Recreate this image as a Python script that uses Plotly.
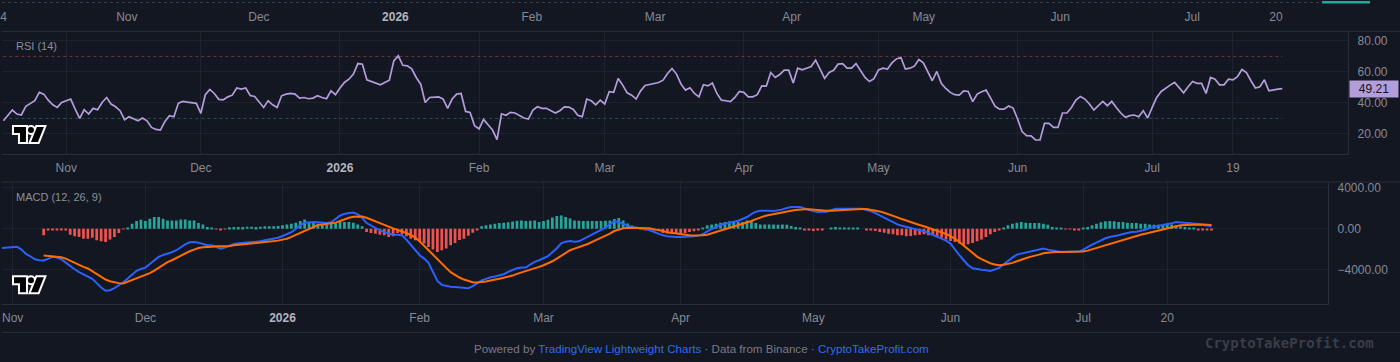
import pandas as pd
import plotly.graph_objects as go

# ---------------- data ----------------
RSI_START = "2025-10-18"
RSI_VALUES = [
    28.5, 32.0, 35.4, 32.8, 32.2, 37.8, 39.7, 41.4, 46.8, 45.7,
    41.8, 38.8, 37.1, 40.3, 41.4, 42.5, 36.0, 30.0, 35.6, 32.8,
    36.5, 35.6, 40.3, 43.5, 39.3, 37.5, 35.0, 29.2, 31.1, 30.0,
    28.5, 30.3, 28.5, 24.2, 22.9, 22.5, 28.1, 31.8, 31.1, 39.9,
    41.0, 40.5, 40.3, 39.7, 33.3, 45.3, 48.7, 46.1, 42.3, 42.0,
    43.9, 45.0, 49.6, 48.9, 49.6, 44.8, 44.2, 40.3, 37.1, 41.4,
    38.8, 37.1, 44.6, 45.7, 46.1, 45.7, 43.1, 43.5, 42.7, 43.1,
    44.6, 43.5, 42.7, 47.8, 45.3, 49.6, 53.2, 55.3, 58.6, 65.4,
    65.0, 54.9, 53.8, 52.3, 51.7, 53.2, 54.7, 67.1, 70.4, 64.3,
    63.9, 62.0, 56.4, 52.1, 40.3, 43.5, 43.9, 43.9, 42.5, 36.5,
    42.5, 45.7, 46.1, 34.5, 33.9, 25.3, 23.2, 29.4, 25.9, 22.5,
    16.3, 33.0, 32.0, 33.9, 33.5, 31.8, 30.3, 29.6, 35.4, 37.5,
    36.5, 36.5, 34.8, 33.5, 35.0, 37.5, 37.3, 35.8, 32.0, 31.1,
    42.5, 41.4, 38.8, 41.8, 39.3, 47.2, 46.8, 55.8, 51.5, 46.5,
    45.0, 42.5, 47.8, 51.3, 51.9, 52.6, 53.2, 54.7, 59.0, 62.2,
    58.6, 52.1, 48.3, 49.8, 46.1, 43.9, 51.7, 51.0, 52.8, 46.1,
    41.8, 41.4, 40.8, 43.5, 47.4, 46.8, 43.9, 43.9, 45.3, 51.0,
    50.8, 59.6, 56.4, 58.3, 61.1, 61.1, 52.8, 62.4, 61.3, 62.4,
    63.5, 67.6, 61.8, 55.8, 59.6, 61.1, 65.0, 65.4, 62.4, 62.4,
    65.4, 61.1, 56.4, 53.8, 55.6, 61.3, 62.4, 61.8, 65.8, 68.4,
    69.3, 61.8, 62.4, 63.7, 68.0, 65.8, 59.6, 54.3, 60.3, 52.6,
    49.3, 46.8, 45.3, 45.0, 47.8, 47.4, 40.8, 45.7, 47.2, 48.3,
    43.1, 37.8, 36.0, 36.0, 38.0, 36.7, 29.6, 21.5, 18.9, 18.7,
    16.1, 16.1, 26.8, 26.8, 24.2, 24.2, 33.5, 33.5, 37.1, 41.8,
    44.2, 42.5, 39.3, 35.4, 38.2, 41.0, 38.2, 41.0, 37.1, 33.5,
    30.7, 31.8, 32.2, 31.1, 35.0, 30.3, 37.1, 43.5, 47.4, 49.6,
    51.5, 53.2, 50.0, 46.5, 50.4, 53.8, 52.6, 52.6, 46.1, 56.4,
    55.3, 51.7, 51.7, 55.3, 54.9, 57.0, 61.6, 59.6, 54.3, 49.6,
    50.4, 54.9, 47.8, 48.5, 48.9, 49.21,
]
RSI_UPPER = 70
RSI_LOWER = 30

MACD_START = "2025-10-29"
MACD_VALUES = [
    -1920, -1890, -1820, -1760, -1760, -2050, -2470, -2700, -2990, -3090,
    -3120, -2960, -2760, -2830, -2990, -3320, -3670, -3970, -4260, -4460,
    -4650, -4910, -5330, -5760, -6080, -6020, -5820, -5560, -5240, -4880,
    -4460, -4130, -3940, -3800, -3450, -3060, -2760, -2570, -2470, -2310,
    -2110, -1790, -1530, -1330, -1300, -1370, -1500, -1630, -1630, -1820,
    -1950, -1850, -1690, -1500, -1430, -1400, -1370, -1370, -1270, -1240,
    -1140, -1070, -980, -880, -720, -550, -330, -30, 360, 590,
    650, 650, 620, 550, 550, 620, 910, 1270, 1460, 1560,
    1590, 1400, 1070, 550, 290, 70, -160, -330, -460, -590,
    -590, -650, -1070, -1560, -2050, -2600, -2930, -3350, -4230, -5110,
    -5500, -5630, -5690, -5720, -5760, -5790, -5820, -5630, -5370, -5070,
    -4910, -4750, -4680, -4590, -4460, -4230, -4030, -3870, -3800, -3800,
    -3510, -3250, -3090, -2930, -2700, -2310, -1920, -1430, -1270, -1200,
    -1270, -1240, -1010, -810, -550, -330, -130, 100, 420, 720,
    650, 490, 290, 130, 100, 70, -30, -160, -330, -490,
    -650, -750, -810, -810, -810, -810, -780, -750, -680, -550,
    -260, -30, 200, 390, 490, 620, 680, 780, 940, 1140,
    1430, 1660, 1760, 1790, 1760, 1720, 1790, 1890, 2020, 2110,
    2110, 2110, 1980, 1820, 1720, 1630, 1630, 1660, 1820, 1950,
    1950, 1950, 1980, 2020, 1980, 1950, 1820, 1720, 1530, 1300,
    1040, 810, 620, 420, 290, 160, 30, -100, -160, -230,
    -420, -650, -810, -980, -1170, -1460, -2080, -2600, -3090, -3580,
    -3870, -3970, -4030, -4070, -4130, -4000, -3840, -3480, -3120, -2830,
    -2540, -2440, -2370, -2280, -2150, -2050, -1950, -2050, -2150, -2210,
    -2280, -2280, -2280, -2280, -2240, -2050, -1790, -1560, -1370, -1140,
    -940, -810, -750, -650, -520, -390, -330, -290, -200, -100,
    70, 200, 290, 360, 420, 520, 650, 620, 550, 520,
    490, 460, 390, 290, 230,
]

SIGNAL_START = "2025-11-08"
SIGNAL_VALUES = [
    -2630, -2670, -2730, -2760, -2800, -2930, -3150, -3350, -3540, -3740,
    -3900, -4160, -4460, -4720, -4980, -5140, -5270, -5330, -5370, -5200,
    -5040, -4880, -4680, -4490, -4360, -4100, -3800, -3540, -3280, -3090,
    -2860, -2630, -2440, -2210, -2050, -1890, -1820, -1760, -1760, -1720,
    -1720, -1690, -1690, -1630, -1590, -1560, -1500, -1460, -1430, -1400,
    -1330, -1300, -1240, -1170, -1070, -980, -810, -620, -390, -160,
    30, 200, 360, 420, 490, 550, 590, 750, 940, 1070,
    1170, 1200, 1200, 1070, 910, 720, 550, 390, 200, 30,
    -100, -260, -420, -620, -880, -1240, -1690, -2150, -2600, -3020,
    -3450, -3840, -4260, -4550, -4780, -4980, -5140, -5240, -5270, -5240,
    -5170, -5070, -5010, -4910, -4810, -4720, -4590, -4420, -4290, -4200,
    -4070, -3900, -3740, -3580, -3410, -3190, -2930, -2630, -2370, -2110,
    -1950, -1820, -1660, -1500, -1300, -1110, -910, -720, -490, -230,
    -70, 30, 100, 100, 100, 100, 70, 30, -70, -130,
    -230, -360, -420, -520, -590, -620, -650, -680, -680, -650,
    -590, -460, -330, -200, -70, 70, 200, 330, 460, 590,
    750, 940, 1110, 1240, 1330, 1430, 1500, 1560, 1660, 1760,
    1820, 1890, 1890, 1890, 1850, 1820, 1760, 1760, 1760, 1790,
    1820, 1850, 1890, 1920, 1920, 1920, 1920, 1850, 1790, 1690,
    1560, 1430, 1270, 1110, 940, 780, 620, 490, 360, 230,
    100, -30, -200, -360, -520, -720, -980, -1300, -1660, -2050,
    -2410, -2730, -2990, -3190, -3380, -3510, -3580, -3540, -3480, -3350,
    -3190, -3020, -2890, -2760, -2670, -2540, -2410, -2340, -2310, -2280,
    -2280, -2280, -2280, -2280, -2280, -2240, -2150, -2020, -1890, -1760,
    -1590, -1430, -1300, -1170, -1040, -910, -780, -680, -590, -490,
    -390, -260, -160, -70, 30, 130, 230, 330, 360, 390,
    420, 420, 420, 390, 360,
]

HIST_START = "2025-11-08"
HIST_VALUES = [
    -650, -160, -100, -100, -130, -160, -590, -750, -810, -980,
    -980, -880, -1140, -1240, -1300, -1070, -810, -420, -70, 70,
    490, 750, 880, 750, 980, 1140, 1140, 980, 810, 810,
    810, 910, 910, 810, 810, 550, 420, 160, 70, -30,
    -160, -70, 130, 160, 160, 160, 200, 200, 160, 200,
    230, 230, 230, 260, 330, 420, 490, 590, 750, 910,
    650, 550, 490, 490, 420, 490, 550, 650, 650, 650,
    590, 420, 230, -330, -420, -490, -590, -650, -810, -750,
    -420, -550, -750, -980, -1140, -1300, -1460, -1790, -2050, -2280,
    -2110, -1950, -1630, -1400, -1100, -980, -700, -400, -100, 230,
    330, 420, 480, 550, 580, 620, 710, 780, 800, 750,
    780, 800, 650, 750, 880, 1100, 1250, 1300, 1150, 1000,
    810, 780, 750, 750, 750, 750, 750, 780, 810, 950,
    1040, 810, 500, 300, 200, 30, -100, -100, -130, -200,
    -420, -480, -490, -490, -450, -420, -330, -250, -160, 100,
    330, 420, 490, 590, 650, 720, 750, 650, 650, 810,
    720, 550, 420, 420, 420, 420, 390, 420, 390, 260,
    160, 30, -160, -160, -230, -160, -100, 0, 70, 160,
    100, 70, 80, 100, 70, 0, -160, -160, -230, -330,
    -390, -490, -550, -650, -650, -750, -720, -650, -590, -550,
    -650, -650, -750, -880, -1070, -1200, -1300, -1460, -1630, -1530,
    -1400, -1240, -1070, -810, -550, -330, -100, 120, 330, 490,
    590, 650, 590, 550, 550, 550, 490, 390, 160, 100,
    70, -70, -70, -100, -160, 60, 160, 330, 490, 620,
    720, 750, 720, 650, 650, 590, 550, 550, 490, 490,
    420, 390, 390, 420, 490, 420, 330, 230, 160, 100,
    70, -100, -100, -130, -130,
]

MONTH_TICKS = ["2025-11-01", "2025-12-01", "2026-01-01", "2026-02-01", "2026-03-01",
               "2026-04-01", "2026-05-01", "2026-06-01", "2026-07-01"]
MONTH_LABELS = ["Nov", "Dec", "<b>2026</b>", "Feb", "Mar", "Apr", "May", "Jun", "Jul"]
TOP_EXTRA_TICKS = [("2025-10-04", "4"), ("2026-07-20", "20")]
RSI_EXTRA_TICKS = [("2026-07-19", "19")]
MACD_EXTRA_TICKS = [("2026-07-20", "20")]
RSI_TICKS = [20, 40, 60, 80]
MACD_TICKS = [-4000, 0, 4000]

# ---------------- styling ----------------
W, H = 1400, 362
BG = "#131722"
GRID = "#1f2330"
SEP = "#2a2e39"
TXT = "#868993"
FONT = "Liberation Sans"
RSI_COLOR = "#b39ddb"
MACD_COLOR = "#2962ff"
SIGNAL_COLOR = "#ff6d00"
UP = "#26a69a"
DOWN = "#ef5350"


def px(x):
    return x / W


def py(y):
    return 1 - y / H


rsi_dates = pd.date_range(RSI_START, periods=len(RSI_VALUES), freq="D")
macd_dates = pd.date_range(MACD_START, periods=len(MACD_VALUES), freq="D")
sig_dates = pd.date_range(SIGNAL_START, periods=len(SIGNAL_VALUES), freq="D")
hist_dates = pd.date_range(HIST_START, periods=len(HIST_VALUES), freq="D")

NOV1 = pd.Timestamp("2025-11-01")


def xrange(nov_px, px_per_day, width):
    a = NOV1 + pd.Timedelta(days=-nov_px / px_per_day)
    b = NOV1 + pd.Timedelta(days=(width - nov_px) / px_per_day)
    return [a, b]


def ticks(extra):
    pairs = list(zip(MONTH_TICKS, MONTH_LABELS)) + extra
    pairs.sort(key=lambda p: p[0])
    vals = [p[0] for p in pairs]
    txt = [p[1].replace("<b>2026</b>", "<span style='color:#b2b5be'><b>2026</b></span>") for p in pairs]
    return vals, txt


fig = go.Figure()

# top strip: carries only the time scale of the (cropped) main chart
fig.add_trace(go.Scatter(x=rsi_dates, y=[None] * len(rsi_dates), mode="lines",
                         xaxis="x", yaxis="y", hoverinfo="skip", showlegend=False))

# RSI pane
fig.add_trace(go.Scatter(x=rsi_dates, y=[RSI_UPPER] * len(rsi_dates), mode="lines",
                         line=dict(color="rgba(239,83,80,0.45)", width=1, dash="dot"),
                         xaxis="x2", yaxis="y2", hoverinfo="skip"))
fig.add_trace(go.Scatter(x=rsi_dates, y=[RSI_LOWER] * len(rsi_dates), mode="lines",
                         line=dict(color="rgba(38,166,154,0.45)", width=1, dash="dot"),
                         xaxis="x2", yaxis="y2", hoverinfo="skip"))
fig.add_trace(go.Scatter(x=rsi_dates, y=RSI_VALUES, mode="lines",
                         line=dict(color=RSI_COLOR, width=1.7),
                         xaxis="x2", yaxis="y2", hoverinfo="skip"))

# MACD pane
fig.add_trace(go.Bar(x=hist_dates, y=HIST_VALUES,
                     marker=dict(color=[UP if v >= 0 else DOWN for v in HIST_VALUES], line=dict(width=0)),
                     width=0.62 * 86400000, xaxis="x3", yaxis="y3", hoverinfo="skip"))
fig.add_trace(go.Scatter(x=macd_dates, y=MACD_VALUES, mode="lines",
                         line=dict(color=MACD_COLOR, width=2),
                         xaxis="x3", yaxis="y3", hoverinfo="skip"))
fig.add_trace(go.Scatter(x=sig_dates, y=SIGNAL_VALUES, mode="lines",
                         line=dict(color=SIGNAL_COLOR, width=2),
                         xaxis="x3", yaxis="y3", hoverinfo="skip"))

tv_top, tt_top = ticks(TOP_EXTRA_TICKS)
tv_rsi, tt_rsi = ticks(RSI_EXTRA_TICKS)
tv_macd, tt_macd = ticks(MACD_EXTRA_TICKS)

axis_font = dict(family=FONT, size=12, color=TXT)

fig.update_layout(
    width=W, height=H, margin=dict(l=0, r=0, t=0, b=0),
    paper_bgcolor=BG, plot_bgcolor=BG, showlegend=False,
    font=dict(family=FONT, size=12, color=TXT),
    hovermode=False,
    # top strip (time scale of the main chart above)
    xaxis=dict(domain=[0, 1], anchor="y", type="date", range=xrange(125, 4.409, 1400),
               tickmode="array", tickvals=tv_top, ticktext=tt_top, showgrid=False,
               zeroline=False, showline=False, ticks="outside", ticklen=1,
               tickcolor="rgba(0,0,0,0)", tickfont=axis_font, fixedrange=True,
               ticklabeloverflow="allow"),
    yaxis=dict(domain=[py(4), 1], anchor="x", visible=False, range=[0, 1], fixedrange=True),
    # RSI pane
    xaxis2=dict(domain=[0, px(1348)], anchor="y2", type="date", range=xrange(64.3, 4.494, 1348),
                tickmode="array", tickvals=tv_rsi, ticktext=tt_rsi, showgrid=True,
                gridcolor=GRID, gridwidth=1, zeroline=False, showline=True, linecolor=SEP,
                linewidth=1, ticks="outside", ticklen=3, tickcolor="rgba(0,0,0,0)",
                tickfont=axis_font, fixedrange=True),
    yaxis2=dict(domain=[py(153), py(31)], anchor="x2", side="right", range=[7.33, 85.8],
                tickmode="array", tickvals=RSI_TICKS, tickformat=".2f", showgrid=True,
                gridcolor=GRID, zeroline=False, showline=True, linecolor=SEP, linewidth=1,
                ticks="outside", ticklen=6, tickcolor="rgba(0,0,0,0)", tickfont=axis_font,
                fixedrange=True),
    # MACD pane
    xaxis3=dict(domain=[0, px(1328)], anchor="y3", type="date", range=xrange(10.7, 4.43, 1328),
                tickmode="array", tickvals=tv_macd, ticktext=tt_macd, showgrid=True,
                gridcolor=GRID, gridwidth=1, zeroline=False, showline=True, linecolor=SEP,
                linewidth=1, ticks="outside", ticklen=3, tickcolor="rgba(0,0,0,0)",
                tickfont=axis_font, fixedrange=True),
    yaxis3=dict(domain=[py(303.5), py(182)], anchor="x3", side="right", range=[-7340, 4520],
                tickmode="array", tickvals=MACD_TICKS, tickformat=".2f", showgrid=True,
                gridcolor=GRID, zeroline=False, showline=True, linecolor=SEP, linewidth=1,
                ticks="outside", ticklen=6, tickcolor="rgba(0,0,0,0)", tickfont=axis_font,
                fixedrange=True),
)

shapes = []
# separators between panes
for y in (30.5, 181.5, 332.5):
    shapes.append(dict(type="line", xref="paper", yref="paper", x0=0, x1=1, y0=py(y), y1=py(y),
                       line=dict(color=SEP, width=1)))
# bottom edge of the main chart above
shapes.append(dict(type="line", xref="paper", yref="paper", x0=0, x1=px(1322), y0=py(1.5), y1=py(1.5),
                   line=dict(color="#3a3f4c", width=1, dash="dot")))
shapes.append(dict(type="rect", xref="paper", yref="paper", x0=px(1322), x1=px(1370), y0=py(2.5), y1=1,
                   line=dict(width=0), fillcolor=UP))


def logo(ox, oy):
    out = []

    def pth(pts):
        s = "M" + " L".join(f"{px(ox + a):.6f},{py(oy + b):.6f}" for a, b in pts) + " Z"
        return s

    t_pts = [(2, 2), (14, 2), (14, 17), (8, 17), (8, 8), (2, 8)]
    v_pts = [(25, 2), (32, 2), (26, 17), (19, 17)]
    for pts in (t_pts, v_pts):
        out.append(dict(type="path", xref="paper", yref="paper", path=pth(pts),
                        fillcolor="white", line=dict(color="white", width=4)))
    out.append(dict(type="circle", xref="paper", yref="paper", x0=px(ox + 16), x1=px(ox + 22),
                    y0=py(oy + 8), y1=py(oy + 2), fillcolor="white", line=dict(color="white", width=4)))
    for pts in (t_pts, v_pts):
        out.append(dict(type="path", xref="paper", yref="paper", path=pth(pts),
                        fillcolor="#000000", line=dict(width=0)))
    out.append(dict(type="circle", xref="paper", yref="paper", x0=px(ox + 16), x1=px(ox + 22),
                    y0=py(oy + 8), y1=py(oy + 2), fillcolor="#000000", line=dict(width=0)))
    return out


shapes += logo(10, 124.3)
shapes += logo(10, 275)
fig.update_layout(shapes=shapes)

annotations = [
    dict(text="RSI (14)", xref="paper", yref="paper", x=px(12), y=py(45), xanchor="left",
         yanchor="middle", showarrow=False, font=dict(family=FONT, size=11, color="#8b8e97")),
    dict(text="MACD (12, 26, 9)", xref="paper", yref="paper", x=px(12), y=py(197), xanchor="left",
         yanchor="middle", showarrow=False, font=dict(family=FONT, size=11, color="#8b8e97")),
    dict(text=f"{RSI_VALUES[-1]:.2f}", xref="paper", yref="y2", x=px(1349), y=RSI_VALUES[-1],
         xanchor="left", yanchor="middle", showarrow=False, bgcolor=RSI_COLOR, width=44, height=12,
         borderpad=2, font=dict(family=FONT, size=12, color="#131722")),
    dict(text="Powered by <span style='color:#2f6cf0'>TradingView Lightweight Charts</span>"
              " · Data from Binance · <span style='color:#2f6cf0'>CryptoTakeProfit.com</span>",
         xref="paper", yref="paper", x=0.5, y=py(348), xanchor="center", yanchor="middle",
         showarrow=False, font=dict(family=FONT, size=11.6, color="#787b86")),
    dict(text="<b>CryptoTakeProfit.com</b>", xref="paper", yref="paper", x=px(1376), y=py(343),
         xanchor="right", yanchor="middle", showarrow=False,
         font=dict(family="DejaVu Sans Mono", size=14, color="#393d48")),
]
fig.update_layout(annotations=annotations)

fig.write_html("out.html")
